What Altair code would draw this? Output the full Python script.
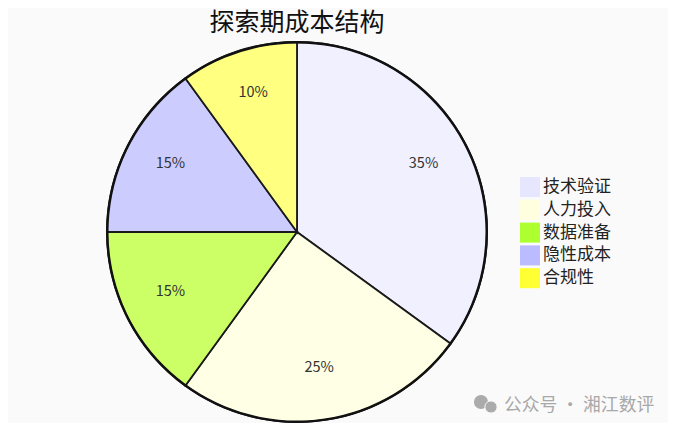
import altair as alt
import pandas as pd

categories = ["技术验证", "人力投入", "数据准备", "隐性成本", "合规性"]
shares = [35, 25, 15, 15, 10]
labels = ["35%", "25%", "15%", "15%", "10%"]
slice_colors = ["#F0F0FF", "#FFFFE6", "#CCFF66", "#CCCCFF", "#FFFF80"]
legend_colors = ["#E6E6FF", "#FFFFE0", "#ADFF2F", "#BBBBFF", "#FFFF33"]
title_text = "探索期成本结构"
watermark = "公众号 · 湘江数评"

CJK = "Noto Sans CJK SC"
df = pd.DataFrame({"cat": categories, "share": shares, "label": labels, "ord": range(5)})
CX, CY, R = 289, 224, 190

theta = alt.Theta("share:Q", stack=True)
order = alt.Order("ord:Q")
pos = dict(x=alt.value(CX), y=alt.value(CY))

legend_layer = alt.Chart(df).mark_arc(outerRadius=R).encode(
    theta=theta, order=order, **pos,
    color=alt.Color("cat:N", scale=alt.Scale(domain=categories, range=legend_colors), sort=categories,
        legend=alt.Legend(title=None, orient="none", legendX=512, legendY=169, symbolType="square",
                          symbolSize=400, symbolStrokeWidth=0, labelFont=CJK, labelFontSize=17,
                          labelColor="#222222", rowPadding=2.8, labelOffset=3, labelLimit=120,
                          symbolOpacity=1)),
)
slices = alt.Chart(df).mark_arc(outerRadius=R, stroke="#1a1a1a", strokeWidth=1.8).encode(
    theta=theta, order=order, **pos,
    color=alt.Color("cat:N", scale=alt.Scale(domain=categories, range=slice_colors), legend=None),
)
rim = alt.Chart(pd.DataFrame({"v": [1]})).mark_arc(
    radius=R + 1, radius2=R - 1.5, fill="#111111", theta=0, theta2=6.2832
).encode(**pos)
texts = alt.Chart(df).mark_text(radius=142, dy=-4, font=CJK, fontSize=14.5, color="#333333").encode(
    theta=theta, order=order, text="label:N", **pos,
)
title = alt.Chart(pd.DataFrame({"t": [title_text]})).mark_text(
    font=CJK, fontSize=25, color="#111111"
).encode(text="t:N", x=alt.value(CX), y=alt.value(15))
wm = alt.Chart(pd.DataFrame({"t": [watermark]})).mark_text(
    font=CJK, fontSize=17.8, color="#A8A8A8", align="left"
).encode(text="t:N", x=alt.value(496), y=alt.value(398))
bubble_big = alt.Chart(pd.DataFrame({"v": [1]})).mark_point(
    shape="circle", filled=True, color="#ABABAB", opacity=1, size=200
).encode(x=alt.value(473), y=alt.value(394))
bubble_small = alt.Chart(pd.DataFrame({"v": [1]})).mark_point(
    shape="circle", filled=True, color="#ABABAB", opacity=1, size=150, stroke="#FAFAFA", strokeWidth=1
).encode(x=alt.value(483), y=alt.value(399))

chart = alt.layer(legend_layer, slices, rim, texts, title, wm, bubble_big, bubble_small).resolve_scale(
    color="independent", theta="shared"
).properties(
    width=660, height=415, padding=0, background="#FAFAFA", autosize=alt.AutoSizeParams(type="none")
).configure_view(stroke=None)
chart.save("out.html", embed_options={"renderer": "svg", "actions": False})
